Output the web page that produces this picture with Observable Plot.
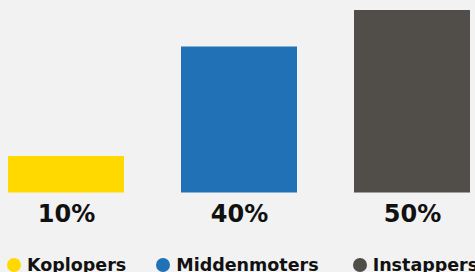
<!DOCTYPE html>
<html>
<head>
<meta charset="utf-8">
<script src="https://cdn.jsdelivr.net/npm/d3@7"></script>
<script src="https://cdn.jsdelivr.net/npm/@observablehq/plot@0.6"></script>
<style>
  html, body { margin: 0; padding: 0; background: #f2f2f2; }
  body { width: 475px; height: 272px; overflow: hidden; font-family: "DejaVu Sans", sans-serif; }
  #legend { display: flex; align-items: center; padding-top: 16px; padding-left: 7px; height: 18px; }
  .item { display: flex; align-items: center; font-weight: bold; font-size: 17.5px; color: #111; line-height: 18px; white-space: nowrap; }
  .sw { width: 14px; height: 14px; border-radius: 50%; margin-right: 6px; flex: none; }
</style>
</head>
<body>
<div id="chart"></div>
<div id="legend"></div>
<script>
const categories = ["Koplopers", "Middenmoters", "Instappers"];
const values = [10, 40, 50];
const colors = ["#ffd900", "#2171b6", "#514d49"];

const data = categories.map((c, i) => ({category: c, value: values[i]}));

const plot = Plot.plot({
  width: 475,
  height: 240,
  marginTop: 10,
  marginBottom: 47.5,
  marginLeft: 7,
  marginRight: 5,
  style: {background: "#f2f2f2", overflow: "visible"},
  x: {domain: categories, paddingInner: 0.33, paddingOuter: 0, axis: null},
  y: {domain: [0, 50], axis: null},
  color: {domain: categories, range: colors},
  marks: [
    Plot.barY(data, {x: "category", y: "value", fill: "category"}),
    Plot.text(data, {
      x: "category", y: 0, text: d => d.value + "%",
      dy: 21, lineAnchor: "middle",
      fontSize: 24, fontWeight: "bold", fill: "#111",
      fontFamily: "DejaVu Sans"
    })
  ]
});
document.getElementById("chart").appendChild(plot);

const legend = document.getElementById("legend");
const gaps = [30, 34, 0];
categories.forEach((c, i) => {
  const it = document.createElement("div");
  it.className = "item";
  it.style.marginRight = gaps[i] + "px";
  const sw = document.createElement("span");
  sw.className = "sw";
  sw.style.background = colors[i];
  const t = document.createElement("span");
  t.textContent = c;
  it.appendChild(sw);
  it.appendChild(t);
  legend.appendChild(it);
});
</script>
</body>
</html>
